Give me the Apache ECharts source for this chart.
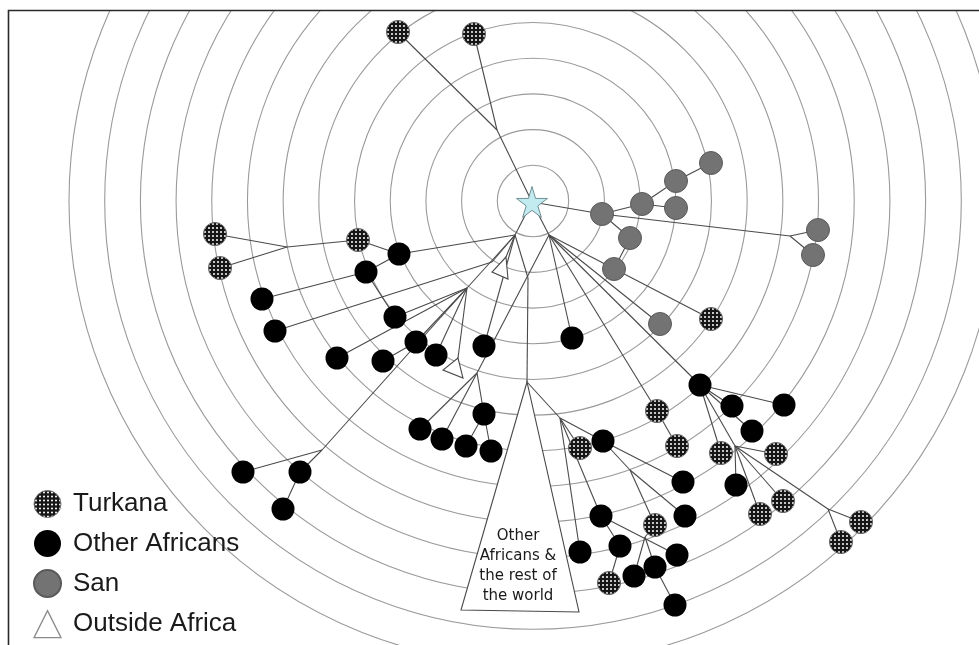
<!DOCTYPE html>
<html>
<head>
<meta charset="utf-8">
<script src="https://cdn.jsdelivr.net/npm/echarts@6/dist/echarts.min.js"></script>
<style>
  html, body { margin: 0; padding: 0; background: #fff; }
  #chart { width: 979px; height: 645px; }
</style>
</head>
<body>
<div id="chart"></div>
<script>
// Median-joining network of mtDNA haplotypes: each node sits on the ring that
// counts its mutational distance from the ancestral root (the star).

// Root haplotype
const root = [['root', 532, 202]];

// Sampled haplotypes by population: [id, x, y]
const turkana = [
  ['t1', 398, 32], ['t2', 474, 34], ['t3', 215, 234], ['t4', 220, 268], ['t5', 358, 240],
  ['t6', 711, 319], ['t7', 657, 411], ['t8', 677, 446], ['t9', 580, 448], ['t10', 721, 453],
  ['t11', 776, 454], ['t12', 655, 525], ['t13', 783, 501], ['t14', 760, 514], ['t15', 861, 522],
  ['t16', 841, 542], ['t17', 609, 583]
];
const otherAfricans = [
  ['a1', 399, 254], ['a2', 366, 272], ['a3', 262, 299], ['a4', 275, 331], ['a5', 395, 317],
  ['a6', 337, 358], ['a7', 383, 361], ['a8', 416, 342], ['a9', 436, 355], ['a10', 484, 346],
  ['a11', 572, 338], ['a12', 420, 429], ['a13', 442, 439], ['a14', 466, 446], ['a15', 484, 414],
  ['a16', 491, 451], ['a17', 243, 472], ['a18', 300, 472], ['a19', 283, 509],
  ['a20', 700, 385], ['a21', 732, 406], ['a22', 784, 405], ['a23', 752, 431], ['a24', 603, 441],
  ['a25', 683, 482], ['a26', 736, 485], ['a27', 601, 516], ['a28', 685, 516], ['a29', 580, 552],
  ['a30', 620, 546], ['a31', 677, 555], ['a32', 655, 567], ['a33', 634, 576], ['a34', 675, 605]
];
const san = [
  ['s1', 602, 214], ['s2', 642, 204], ['s3', 676, 181], ['s4', 711, 163], ['s5', 676, 208],
  ['s6', 630, 238], ['s7', 614, 269], ['s8', 818, 230], ['s9', 813, 255], ['s10', 660, 324]
];

// Inferred (unsampled) median vectors
const junctions = [
  ['j0', 497, 130], ['j1', 515, 235], ['j2', 549, 235], ['j3', 467, 288], ['j4', 477, 373],
  ['jL', 287, 247], ['jM', 492, 262], ['jS', 322, 450], ['jE', 790, 236], ['jK', 528, 278],
  ['j5', 560, 418], ['j6', 735, 446], ['j7', 828, 509], ['j8', 630, 470], ['j9', 645, 537]
];

// Collapsed clades drawn as wedges: [id, tip, base corner, base corner]
const outsideAfrica = [
  ['o1', [506, 257], [492, 272], [508, 279]],
  ['o2', [458, 358], [443, 370], [463, 378]]
];
const restOfWorld = [
  ['big', [527, 382], [461, 610], [579, 612]]
];
const restOfWorldLabel = ['Other', 'Africans &', 'the rest of', 'the world'];

// Network branches
const branches = [
  ['root', 'j0'], ['j0', 't1'], ['j0', 't2'],
  ['root', 's1'], ['s1', 's2'], ['s2', 's3'], ['s3', 's4'], ['s2', 's5'], ['s1', 's6'], ['s6', 's7'],
  ['s1', 'jE'], ['jE', 's8'], ['jE', 's9'],
  ['root', 'j1'], ['root', 'j2'],
  ['j1', 'a1'], ['a1', 't5'], ['t5', 'jL'], ['jL', 't3'], ['jL', 't4'], ['a1', 'a2'], ['a2', 'a3'],
  ['a2', 'a5'], ['j1', 'jM'], ['jM', 'a4'], ['j1', 'j3'], ['j3', 'a5'], ['j3', 'a6'], ['j3', 'a8'],
  ['a8', 'a7'], ['j3', 'a9'], ['j3', 'o2'], ['j3', 'jS'], ['jS', 'a17'], ['jS', 'a18'], ['a18', 'a19'],
  ['j1', 'o1'], ['j1', 'a10'], ['j1', 'jK'], ['jK', 'big'],
  ['j2', 'j4'], ['j4', 'a12'], ['j4', 'a13'], ['j4', 'a15'], ['a15', 'a14'], ['a15', 'a16'],
  ['j2', 'a11'], ['j2', 's10'], ['j2', 't6'], ['j2', 't7'], ['t7', 't8'], ['j2', 'a20'],
  ['a20', 'a21'], ['a20', 'a22'], ['a20', 'a23'], ['a20', 't10'], ['a20', 'j6'],
  ['j6', 't11'], ['j6', 'a26'], ['j6', 't14'], ['j6', 't13'], ['j6', 'j7'], ['j7', 't15'], ['j7', 't16'],
  ['big', 'j5'], ['j5', 't9'], ['j5', 'a24'], ['j5', 'a29'], ['j5', 'a27'],
  ['a24', 'a25'], ['a24', 'j8'], ['j8', 't12'], ['j8', 'a28'], ['a27', 'a30'], ['a30', 't17'],
  ['a27', 'a31'], ['t12', 'j9'], ['j9', 'a33'], ['j9', 'a32'], ['a32', 'a34']
];

// ---- build lookup & series ----
const NODE_SIZE = 23;
const pos = {};
[...root, ...turkana, ...otherAfricans, ...san, ...junctions].forEach(([id, x, y]) => { pos[id] = [x, y]; });
[...outsideAfrica, ...restOfWorld].forEach(([id, tip]) => { pos[id] = tip; });

const xy = arr => arr.map(([, x, y]) => [x, y]);
const tri = arr => arr.map(([, a, b, c]) => [a[0], a[1], b[0], b[1], c[0], c[1]]);

// dotted fill for Turkana; drawn at 2x and scaled back down.
// Scatter symbols are unit paths scaled by size/2, so that scale is undone too.
function dotPattern(extraScale) {
  const c = document.createElement('canvas');
  c.width = c.height = 8;
  const g = c.getContext('2d');
  g.fillStyle = '#161616';
  g.fillRect(0, 0, 8, 8);
  g.fillStyle = '#ffffff';
  g.beginPath();
  g.arc(4, 4, 2.0, 0, Math.PI * 2);
  g.fill();
  const s = 0.5 * extraScale;
  return { image: c, repeat: 'repeat', scaleX: s, scaleY: s };
}
const turkanaNodeFill = dotPattern(2 / NODE_SIZE);
const turkanaIconFill = dotPattern(1);

const starPath = 'path://M50,0 L61,35 L98,35 L68,57 L79,91 L50,70 L21,91 L32,57 L2,35 L39,35 Z';

function wedge(params, api) {
  const pts = [0, 1, 2].map(i => api.coord([api.value(2 * i), api.value(2 * i + 1)]));
  return {
    type: 'polygon',
    shape: { points: pts },
    style: { fill: '#ffffff', stroke: '#4a4a4a', lineWidth: 1.1 }
  };
}

function labelledWedge(params, api) {
  const pts = [0, 1, 2].map(i => api.coord([api.value(2 * i), api.value(2 * i + 1)]));
  const cx = (pts[1][0] + pts[2][0]) / 2 - 2;
  const cy = (pts[1][1] + pts[2][1]) / 2 - 45;
  return {
    type: 'group',
    children: [
      { type: 'polygon', shape: { points: pts },
        style: { fill: '#ffffff', stroke: '#4a4a4a', lineWidth: 1.1 } },
      { type: 'text', x: cx, y: cy,
        style: { text: restOfWorldLabel.join('\n'), fontFamily: 'DejaVu Sans', fontSize: 15,
                 lineHeight: 20, fill: '#1a1a1a', align: 'center', verticalAlign: 'middle' } }
    ]
  };
}

const chart = echarts.init(document.getElementById('chart'), null, { renderer: 'canvas' });

chart.setOption({
  animation: false,
  backgroundColor: '#ffffff',
  polar: { center: [533, 201], radius: 464 },
  angleAxis: { show: false, min: 0, max: 360, splitLine: { show: false } },
  radiusAxis: {
    min: 0, max: 13, interval: 1,
    axisLine: { show: false }, axisTick: { show: false }, axisLabel: { show: false },
    splitLine: { show: true, lineStyle: { color: '#9a9a9a', width: 1.1 } }
  },
  grid: { left: 0, right: 0, top: 0, bottom: 0 },
  xAxis: { type: 'value', min: 0, max: 979, show: false },
  yAxis: { type: 'value', min: 0, max: 645, inverse: true, show: false },
  legend: {
    orient: 'vertical', left: 33, top: 490, height: 170, padding: 0, itemGap: 12,
    itemWidth: 27, itemHeight: 27,
    textStyle: { fontFamily: 'Liberation Sans, Arial', fontSize: 26, color: '#1a1a1a', padding: [0, 0, 0, 7] },
    data: [
      { name: 'Turkana', icon: 'circle',
        itemStyle: { color: turkanaIconFill, borderColor: '#777', borderWidth: 1 } },
      { name: 'Other Africans', icon: 'circle' },
      { name: 'San', icon: 'circle' },
      { name: 'Outside Africa', icon: 'triangle',
        itemStyle: { color: '#ffffff', borderColor: '#8a8a8a', borderWidth: 1.3 } }
    ],
    selectedMode: false
  },
  graphic: [
    { type: 'rect', z: 100, shape: { x: 0, y: 0, width: 979, height: 10 }, style: { fill: '#fff' } },
    { type: 'rect', z: 100, shape: { x: 0, y: 0, width: 8, height: 645 }, style: { fill: '#fff' } },
    { type: 'rect', z: 101, shape: { x: 8.5, y: 10.5, width: 1000, height: 700 },
      style: { fill: null, stroke: '#2a2a2a', lineWidth: 1.6 } }
  ],
  series: [
    { type: 'scatter', coordinateSystem: 'polar', data: [], silent: true },
    {
      name: 'branches', type: 'lines', coordinateSystem: 'cartesian2d', z: 2, silent: true,
      lineStyle: { color: '#4a4a4a', width: 1.1, opacity: 1 },
      data: branches.map(([a, b]) => ({ coords: [pos[a], pos[b]] }))
    },
    {
      name: 'Outside Africa', type: 'custom', coordinateSystem: 'cartesian2d', z: 3,
      itemStyle: { color: '#ffffff', borderColor: '#8a8a8a' },
      renderItem: wedge, data: tri(outsideAfrica)
    },
    {
      name: 'rest', type: 'custom', coordinateSystem: 'cartesian2d', z: 3,
      renderItem: labelledWedge, data: tri(restOfWorld)
    },
    {
      name: 'Turkana', type: 'scatter', z: 4, symbol: 'circle', symbolSize: NODE_SIZE,
      itemStyle: { color: turkanaNodeFill, borderColor: '#666', borderWidth: 1, opacity: 1 },
      data: xy(turkana)
    },
    {
      name: 'Other Africans', type: 'scatter', z: 4, symbol: 'circle', symbolSize: NODE_SIZE,
      itemStyle: { color: '#000000', opacity: 1 },
      data: xy(otherAfricans)
    },
    {
      name: 'San', type: 'scatter', z: 4, symbol: 'circle', symbolSize: NODE_SIZE,
      itemStyle: { color: '#737373', borderColor: '#5a5a5a', borderWidth: 1, opacity: 1 },
      data: xy(san)
    },
    {
      name: 'root', type: 'scatter', z: 5, symbol: starPath, symbolSize: 31,
      itemStyle: { color: '#c2ebf0', borderColor: '#6f8f95', borderWidth: 1, opacity: 1 },
      data: xy(root)
    }
  ]
});
</script>
</body>
</html>
